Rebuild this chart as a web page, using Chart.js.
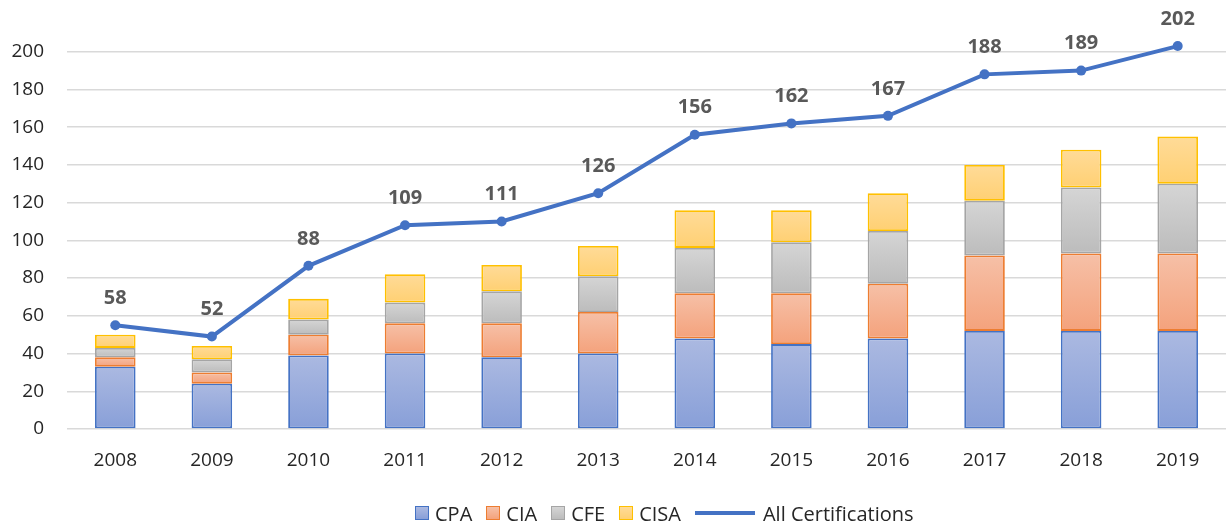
<!DOCTYPE html>
<html>
<head>
<meta charset="utf-8">
<script src="https://cdn.jsdelivr.net/npm/chart.js@4"></script>
<style>
  html, body { margin: 0; padding: 0; background: #fff; }
  #wrap { position: relative; width: 1231px; height: 525px; }
  #legend {
    position: absolute; left: 415px; top: 500px; height: 26px;
    display: flex; align-items: center;
    font-family: "Open Sans", sans-serif; font-size: 20px; color: #262626;
  }
  .lg { display: flex; align-items: center; margin-right: 14px; }
  .lg .box { width: 12px; height: 12px; border: 1.5px solid; margin-right: 6px; }
  .lg .ln { width: 60px; height: 4px; margin-right: 8px; }
</style>
</head>
<body>
<div id="wrap">
  <canvas id="c" width="1231" height="525"></canvas>
  <div id="legend"></div>
</div>
<script>
// ── Data ──────────────────────────────────────────────────────
const YEARS = ['2008','2009','2010','2011','2012','2013','2014','2015','2016','2017','2018','2019'];
const CPA   = [33, 24, 39, 40, 38, 40, 48, 45, 48, 52, 52, 52];
const CIA   = [ 5,  6, 11, 16, 18, 22, 24, 27, 29, 40, 41, 41];
const CFE   = [ 5,  7,  8, 11, 17, 19, 24, 27, 28, 29, 35, 37];
const CISA  = [ 7,  7, 11, 15, 14, 16, 20, 17, 20, 19, 20, 25];
const ALL   = [55, 49, 86.5, 108, 110, 125, 156, 162, 166, 188, 190, 203];
const ALL_LABELS = ['58','52','88','109','111','126','156','162','167','188','189','202'];
const Y_TICKS = [0, 20, 40, 60, 80, 100, 120, 140, 160, 180, 200];

const STACK = [CPA, CIA, CFE, CISA];

// per-series style: top colour, bottom colour, border
const SERIES = [
    { name: 'CPA',  data: CPA,  top: '#abb9e1', bot: '#889fd8', border: '#4472c4' },
    { name: 'CIA',  data: CIA,  top: '#f6c0a7', bot: '#f4a27c', border: '#ed7d31' },
    { name: 'CFE',  data: CFE,  top: '#d5d5d5', bot: '#bcbcbc', border: '#a5a5a5' },
    { name: 'CISA', data: CISA, top: '#ffdb98', bot: '#ffd073', border: '#ffc000' },
];

const FONT = '"Open Sans", sans-serif';

// ── Gradient per segment (vertical, lighter at top) ───────────
function segGradient(s, dsIndex) {
    return ctx => {
        const chart = ctx.chart;
        const y = chart.scales.y;
        if (!chart.chartArea || !y || ctx.dataIndex == null) return s.bot;
        let base = 0;
        for (let k = 0; k < dsIndex; k++) base += STACK[k][ctx.dataIndex];
        const top = base + STACK[dsIndex][ctx.dataIndex];
        const y0 = y.getPixelForValue(top), y1 = y.getPixelForValue(base);
        if (!isFinite(y0) || !isFinite(y1) || y0 === y1) return s.bot;
        const g = chart.ctx.createLinearGradient(0, y0, 0, y1);
        g.addColorStop(0, s.top);
        g.addColorStop(1, s.bot);
        return g;
    };
}

const barSets = SERIES.map((s, i) => ({
    type: 'bar',
    label: s.name,
    data: s.data,
    backgroundColor: segGradient(s, i),
    borderColor: s.border,
    borderWidth: 1.8,
    borderSkipped: false,
    stack: 'certs',
    barPercentage: 0.42,
    categoryPercentage: 1,
    order: 2,
}));

const lineSet = {
    type: 'line',
    label: 'All Certifications',
    data: ALL,
    borderColor: '#4472c4',
    backgroundColor: '#4472c4',
    borderWidth: 4,
    pointRadius: 5,
    pointBackgroundColor: '#4472c4',
    pointBorderWidth: 0,
    tension: 0,
    order: 1,
};

// ── Value labels above line points ────────────────────────────
const lineLabels = {
    id: 'lineLabels',
    afterDatasetsDraw(chart) {
        const meta = chart.getDatasetMeta(SERIES.length);
        const c = chart.ctx;
        c.save();
        c.font = 'bold 20px ' + FONT;
        c.fillStyle = '#595959';
        c.textAlign = 'center';
        c.textBaseline = 'middle';
        meta.data.forEach((pt, i) => c.fillText(ALL_LABELS[i], pt.x, pt.y - 27));
        c.restore();
    }
};

new Chart(document.getElementById('c'), {
    data: { labels: YEARS, datasets: [...barSets, lineSet] },
    options: {
        responsive: false, animation: false,
        layout: { padding: { top: 14, right: 1, bottom: 52, left: 0 } },
        plugins: { legend: { display: false }, tooltip: { enabled: false } },
        scales: {
            x: {
                stacked: true,
                afterFit: sc => { sc.height = 44; },
                grid: { display: false, drawTicks: false },
                border: { display: false },
                ticks: { color: '#262626', font: { family: FONT, size: 19 }, padding: 20 },
            },
            y: {
                stacked: true,
                min: 0, max: 220,
                afterBuildTicks: sc => { sc.ticks = Y_TICKS.map(v => ({ value: v })); },
                afterFit: sc => { sc.width = 67; sc.paddingTop = 0; sc.paddingBottom = 0; },
                grid: { color: '#d9d9d9', lineWidth: 1.5, drawTicks: false },
                border: { display: false },
                ticks: { color: '#262626', font: { family: FONT, size: 19 }, padding: 23 },
            },
        },
    },
    plugins: [lineLabels],
});

// ── Legend ────────────────────────────────────────────────────
const lg = document.getElementById('legend');
lg.innerHTML = SERIES.map(s =>
    `<span class="lg"><span class="box" style="background:linear-gradient(${s.top},${s.bot});border-color:${s.border}"></span>${s.name}</span>`
).join('') +
    `<span class="lg"><span class="ln" style="background:#4472c4"></span>All Certifications</span>`;
</script>
</body>
</html>
